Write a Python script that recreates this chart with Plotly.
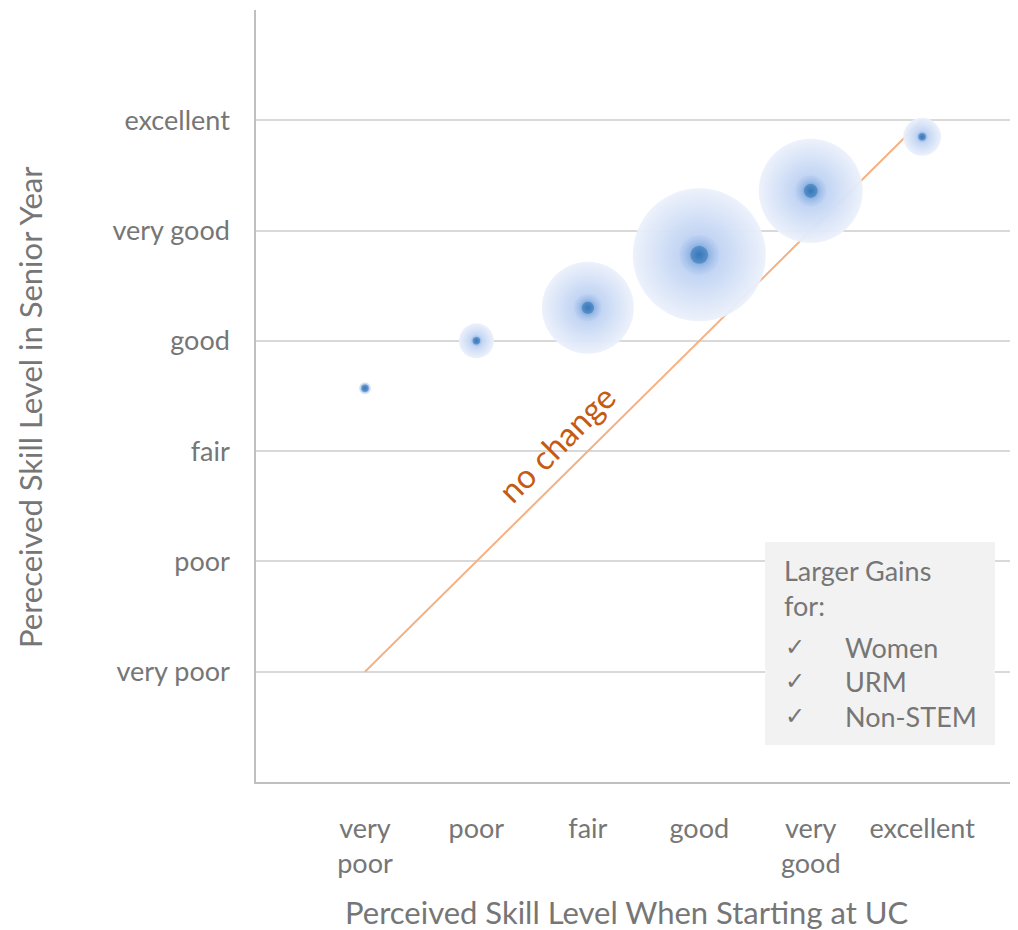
import plotly.graph_objects as go

levels = ["very poor", "poor", "fair", "good", "very good", "excellent"]
x_ticktext = ["very<br>poor", "poor", "fair", "good", "very<br>good", "excellent"]
start_level = [1, 2, 3, 4, 5, 6]
senior_level = [3.57, 4.0, 4.30, 4.78, 5.36, 5.85]
bubble_size = [12, 35, 92, 133, 104, 38]
legend_lines = ["Larger Gains", "for:"]
legend_items = ["Women", "URM", "Non-STEM"]

FONT = "Lato"
GRAY = "#767676"

W, H = 1010, 922
OX, OY = 8, 8
PL, PR, PT, PB = 256, 1018, 10, 782
pw, ph = PR - PL, PB - PT


def px(x):
    return (x - PL) / pw


def py(y):
    return (PB - y) / ph


fig = go.Figure()

fig.add_trace(go.Scatter(x=[1, 6], y=[1, 6], mode="lines",
                         line=dict(color="#F4B183", width=2), hoverinfo="skip"))

fig.add_trace(go.Scatter(
    x=start_level, y=senior_level, mode="markers",
    marker=dict(size=bubble_size, color="rgba(236,241,251,0.95)",
                gradient=dict(type="radial", color="#afc8f0"),
                line=dict(width=0), opacity=1),
    hoverinfo="skip"))

core = [max(12, s * 0.3) for s in bubble_size]
fig.add_trace(go.Scatter(
    x=start_level, y=senior_level, mode="markers",
    marker=dict(size=core, color="rgba(140,178,232,0.15)",
                gradient=dict(type="radial", color="#2a6fb4"),
                line=dict(width=0)),
    hoverinfo="skip"))
fig.add_trace(go.Scatter(
    x=start_level, y=senior_level, mode="markers",
    marker=dict(size=[max(7.5, c * 0.45) for c in core], color="rgba(46,117,182,0.75)",
                gradient=dict(type="radial", color="#2a6fb4"),
                line=dict(width=0)),
    hoverinfo="skip"))

fig.add_annotation(x=2.72, y=3.07, text="no change", textangle=-45, showarrow=False,
                   font=dict(family=FONT, size=33, color="#C55A11"))

fig.add_shape(type="rect", xref="paper", yref="paper",
              x0=px(765), x1=px(995), y0=py(745), y1=py(542),
              fillcolor="#f2f2f2", line=dict(width=0), layer="above")
for t, yy in zip(legend_lines, [571, 605]):
    fig.add_annotation(xref="paper", yref="paper", x=px(782), y=py(yy),
                       text=t, showarrow=False, xanchor="left", yanchor="middle",
                       font=dict(family=FONT, size=27, color=GRAY))
for t, yy in zip(legend_items, [647, 681, 716]):
    fig.add_annotation(xref="paper", yref="paper", x=px(783), y=py(yy),
                       text="✓", showarrow=False, xanchor="left", yanchor="middle",
                       font=dict(family="DejaVu Sans", size=24, color=GRAY))
    fig.add_annotation(xref="paper", yref="paper", x=px(843), y=py(yy),
                       text=t, showarrow=False, xanchor="left", yanchor="middle",
                       font=dict(family=FONT, size=27, color=GRAY))

fig.add_annotation(xref="paper", yref="paper", x=px(627), y=py(912),
                   text="Perceived Skill Level When Starting at UC", showarrow=False,
                   xanchor="center", yanchor="middle",
                   font=dict(family=FONT, size=31, color=GRAY))
fig.add_annotation(xref="paper", yref="paper", x=px(30), y=py(407),
                   text="Pereceived Skill Level in Senior Year", showarrow=False,
                   textangle=-90, xanchor="center", yanchor="middle",
                   font=dict(family=FONT, size=31, color=GRAY))

fig.update_layout(
    width=W, height=H, showlegend=False,
    margin=dict(l=PL - OX, r=W - (PR - OX), t=PT - OY, b=H - (PB - OY), pad=0),
    plot_bgcolor="white", paper_bgcolor="white",
    font=dict(family=FONT, color=GRAY),
    xaxis=dict(range=[0.022, 6.86], tickvals=start_level, ticktext=x_ticktext,
               showgrid=False, zeroline=False, showline=True, linecolor="#bfbfbf",
               linewidth=1.5, ticks="", ticklabelstandoff=22,
               tickfont=dict(family=FONT, size=27, color=GRAY)),
    yaxis=dict(range=[0, 7], tickvals=start_level, ticktext=levels,
               showgrid=True, gridcolor="#d9d9d9", gridwidth=1.5, zeroline=False,
               showline=True, linecolor="#bfbfbf", linewidth=1.5, ticks="",
               ticklabelstandoff=19,
               tickfont=dict(family=FONT, size=27, color=GRAY)),
)

fig.write_html("out.html")
